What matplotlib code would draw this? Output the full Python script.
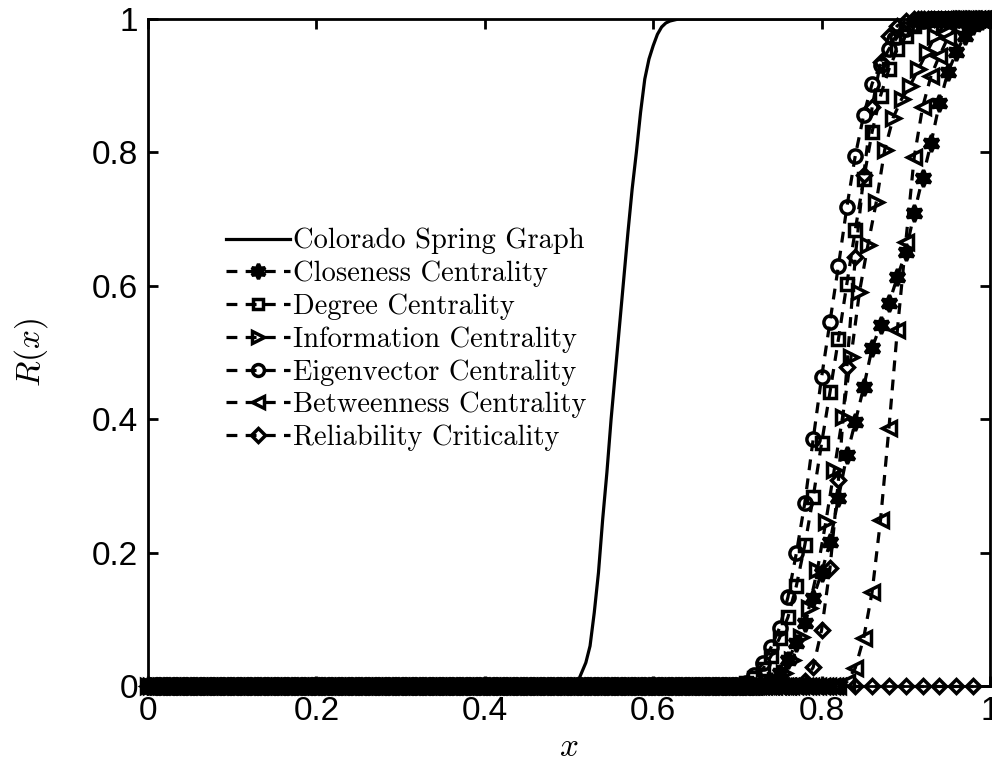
import numpy as np
import matplotlib
matplotlib.use("Agg")
import matplotlib.pyplot as plt

# Colorado Spring Graph (solid line, no markers)
colorado_x = [0.0, 0.505, 0.51, 0.515, 0.52, 0.525, 0.53, 0.535, 0.54, 0.545, 0.55,
              0.555, 0.56, 0.565, 0.57, 0.575, 0.58, 0.585, 0.59, 0.595, 0.60,
              0.605, 0.61, 0.615, 0.62, 0.63, 1.0]
colorado_y = [0.0, 0.0, 0.005, 0.02, 0.035, 0.06, 0.11, 0.17, 0.25, 0.32, 0.40,
              0.47, 0.54, 0.61, 0.68, 0.745, 0.80, 0.86, 0.91, 0.94, 0.96,
              0.977, 0.988, 0.994, 0.997, 1.0, 1.0]

# rising part of each centrality curve: first x of the rise and values at 0.01 steps
closeness_x0 = 0.73
closeness_rise = [0.0, 0.008, 0.02, 0.039, 0.064, 0.094, 0.132, 0.17, 0.216, 0.282,
                  0.346, 0.396, 0.448, 0.507, 0.541, 0.574, 0.613, 0.651, 0.709,
                  0.762, 0.814, 0.874, 0.92, 0.95, 0.975, 0.99, 0.997]
degree_x0 = 0.70
degree_rise = [0.0, 0.004, 0.012, 0.025, 0.045, 0.072, 0.103, 0.150, 0.211, 0.283,
               0.364, 0.441, 0.520, 0.603, 0.684, 0.76, 0.831, 0.885, 0.925, 0.955,
               0.975, 0.99, 0.997]
information_x0 = 0.735
information_rise = [0.0, 0.008, 0.02, 0.039, 0.073, 0.117, 0.174, 0.246, 0.324, 0.404,
                    0.494, 0.591, 0.661, 0.726, 0.804, 0.852, 0.88, 0.90, 0.925,
                    0.95, 0.975, 0.99, 0.997]
eigenvector_x0 = 0.70
eigenvector_rise = [0.0, 0.005, 0.016, 0.034, 0.058, 0.087, 0.133, 0.199, 0.274, 0.370,
                    0.463, 0.546, 0.630, 0.718, 0.795, 0.856, 0.903, 0.931, 0.955,
                    0.973, 0.985, 0.993, 0.997]
betweenness_x0 = 0.82
betweenness_rise = [0.0, 0.006, 0.027, 0.072, 0.141, 0.249, 0.387, 0.534, 0.666, 0.793,
                    0.868, 0.915, 0.945, 0.972, 0.988, 0.996]
reliability_x0 = 0.77
reliability_rise = [0.0, 0.008, 0.028, 0.084, 0.177, 0.309, 0.478, 0.643, 0.766, 0.868,
                    0.935, 0.975, 0.99, 0.997]
# extra reliability markers lying on the x axis
reliability_tail_x = [0.84, 0.86, 0.88, 0.90, 0.92, 0.94, 0.96, 0.98]
reliability_tail_y = [0, 0, 0, 0, 0, 0, 0, 0]

labels = ["Colorado Spring Graph", "Closeness Centrality", "Degree Centrality",
          "Information Centrality", "Eigenvector Centrality",
          "Betweenness Centrality", "Reliability Criticality"]


def full_curve(x0, rise, step=0.01, flat_step=0.004):
    # the flat parts (0 before the rise, 1 after it) are sampled more densely
    x_rise = x0 + step * np.arange(len(rise))
    x_low = np.arange(0, x0 - 1e-9, flat_step)
    x_high = np.arange(x_rise[-1] + step, 1.0 + 1e-9, flat_step)
    xs = np.concatenate([x_low, x_rise, x_high])
    ys = np.concatenate([np.zeros(len(x_low)), rise, np.ones(len(x_high))])
    return xs, ys


plt.rcParams["mathtext.fontset"] = "cm"

fig = plt.figure(figsize=(9.92, 7.71), dpi=100)
ax = fig.add_axes([148 / 992, 85 / 771, 842 / 992, 667 / 771])

ax.plot(colorado_x, colorado_y, "-", color="k", linewidth=2.3, label=labels[0])

dash = (0, (3.4, 2.6))
series = [
    (closeness_x0, closeness_rise, (6, 1, 0), 12, "k", labels[1]),
    (degree_x0, degree_rise, "s", 8, "none", labels[2]),
    (information_x0, information_rise, ">", 9.5, "none", labels[3]),
    (eigenvector_x0, eigenvector_rise, "o", 9.5, "none", labels[4]),
    (betweenness_x0, betweenness_rise, "<", 9.5, "none", labels[5]),
    (reliability_x0, reliability_rise, "D", 7.5, "none", labels[6]),
]
for x0, rise, mk, ms, fc, lab in series:
    xs, ys = full_curve(x0, rise)
    ax.plot(xs, ys, linestyle=dash, color="k", linewidth=2.3, marker=mk,
            markersize=ms, markerfacecolor=fc, markeredgecolor="k",
            markeredgewidth=2.5, label=lab, clip_on=False)

ax.plot(reliability_tail_x, reliability_tail_y, linestyle=dash, color="k",
        linewidth=2.3, marker="D", markersize=7.5, markerfacecolor="none",
        markeredgecolor="k", markeredgewidth=2.5, clip_on=False)

ax.set_xlim(0, 1)
ax.set_ylim(0, 1)
ax.set_xticks([0, 0.2, 0.4, 0.6, 0.8, 1])
ax.set_xticklabels(["0", "0.2", "0.4", "0.6", "0.8", "1"])
ax.set_yticks([0, 0.2, 0.4, 0.6, 0.8, 1])
ax.set_yticklabels(["0", "0.2", "0.4", "0.6", "0.8", "1"])
ax.tick_params(direction="in", top=True, right=True, length=7, width=2,
               labelsize=24, pad=7)
for lbl in ax.get_xticklabels() + ax.get_yticklabels():
    lbl.set_family("Liberation Sans")
for s in ax.spines.values():
    s.set_linewidth(2)

ax.set_xlabel("$x$", fontsize=24, labelpad=2)
ax.set_ylabel("$R(x)$", fontsize=24, labelpad=30)

ax.legend(loc="upper left", bbox_to_anchor=(226 / 992, 1 - 228 / 771),
          bbox_transform=fig.transFigure, frameon=False, borderpad=0,
          borderaxespad=0, prop={"family": "cmr10", "size": 20.5},
          handlelength=2.25, handletextpad=0.1, labelspacing=0.22,
          markerscale=0.9)

fig.savefig("out.png", dpi=100)
